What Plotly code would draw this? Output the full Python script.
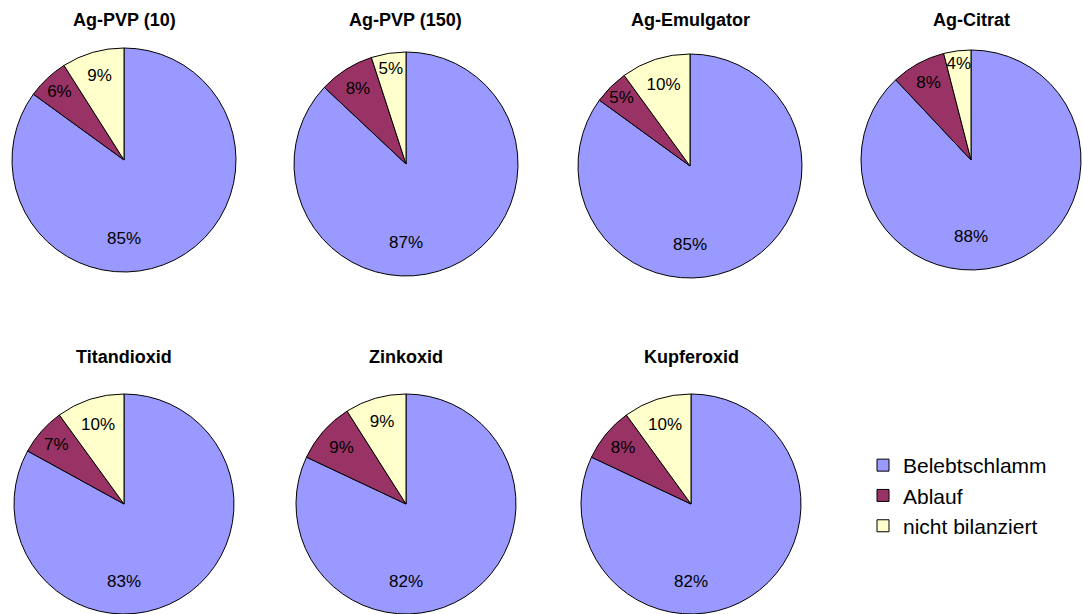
import plotly.graph_objects as go

W, H = 1083, 614

names = ["Ag-PVP (10)", "Ag-PVP (150)", "Ag-Emulgator", "Ag-Citrat",
         "Titandioxid", "Zinkoxid", "Kupferoxid"]
labels = ["Belebtschlamm", "Ablauf", "nicht bilanziert"]
belebtschlamm = [85, 87, 85, 88, 83, 82, 82]
ablauf = [6, 8, 5, 8, 7, 9, 8]
nicht_bilanziert = [9, 5, 10, 4, 10, 9, 10]
colors = ["#9999FF", "#993366", "#FFFFCC"]

# layout (pixels): centre x, centre y, radius
centres = [(124, 160, 112), (406, 164, 112), (690, 166, 112), (971, 160, 110),
           (124, 504, 110), (406, 504, 110), (691, 504, 110)]
title_y = [20, 20, 20, 20, 357, 357, 357]
FONT = "Liberation Sans, Arial, sans-serif"


def px(x):
    return x / W


def py(y):
    return 1 - y / H


fig = go.Figure()
for i, name in enumerate(names):
    cx, cy, r = centres[i]
    vals = [belebtschlamm[i], ablauf[i], nicht_bilanziert[i]]
    fig.add_trace(go.Pie(
        labels=labels, values=vals, sort=False, direction="clockwise", rotation=0,
        marker=dict(colors=colors, line=dict(color="black", width=1)),
        texttemplate="%{value}%", textposition=["none", "inside", "inside"],
        insidetextorientation="horizontal",
        textfont=dict(family=FONT, size=17, color="black"),
        hoverinfo="label+percent", name=name,
        domain=dict(x=[max(0, px(cx - r)), min(1, px(cx + r))],
                    y=[max(0, py(cy + r)), min(1, py(cy - r))]),
        showlegend=(i == 0),
    ))
    # label of the large slice, placed below the centre as in the original
    fig.add_annotation(text="%d%%" % belebtschlamm[i], x=px(cx), y=py(cy + 0.7 * r),
                       xref="paper", yref="paper", showarrow=False,
                       xanchor="center", yanchor="middle",
                       font=dict(family=FONT, size=17, color="black"))
    fig.add_annotation(text="<b>%s</b>" % name, x=px(cx), y=py(title_y[i]),
                       xref="paper", yref="paper", showarrow=False,
                       xanchor="center", yanchor="middle",
                       font=dict(family=FONT, size=18, color="black"))

fig.update_layout(
    width=W, height=H, margin=dict(l=0, r=0, t=0, b=0),
    paper_bgcolor="white", plot_bgcolor="white",
    uniformtext=dict(minsize=17, mode="show"),
    legend=dict(x=px(863), y=py(445), xanchor="left", yanchor="top",
                font=dict(family=FONT, size=21, color="black"),
                bgcolor="rgba(0,0,0,0)"),
)
fig.write_html("out.html", config=dict(displayModeBar=False),
               post_script="document.body.style.margin='0';")
